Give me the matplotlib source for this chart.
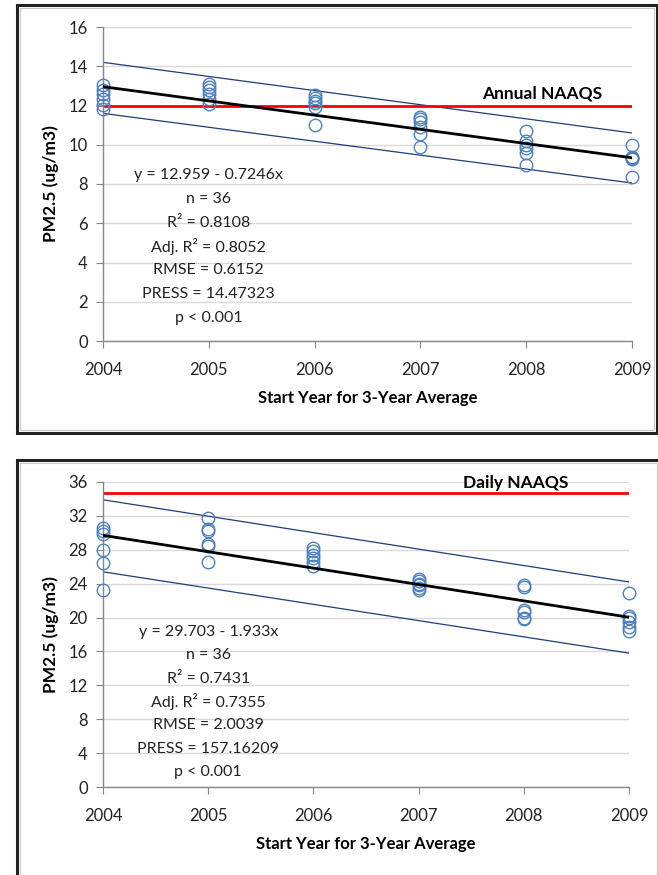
import numpy as np
import matplotlib.pyplot as plt
from matplotlib.patches import Rectangle

plt.rcParams['font.family'] = ['Lato', 'DejaVu Sans']

years = [2004, 2005, 2006, 2007, 2008, 2009]

# annual PM2.5, six sites per start year
annual = [
    [13.05, 12.8, 12.6, 12.35, 12.05, 11.8],
    [13.1, 12.95, 12.8, 12.6, 12.35, 12.1],
    [12.55, 12.4, 12.25, 12.15, 11.9, 11.0],
    [11.4, 11.3, 11.15, 10.9, 10.55, 9.9],
    [10.7, 10.2, 10.0, 9.85, 9.6, 8.95],
    [10.0, 9.4, 9.35, 9.3, 9.25, 8.35],
]
# daily PM2.5
daily = [
    [30.6, 30.2, 29.9, 28.0, 26.4, 23.2],
    [31.8, 30.4, 30.2, 28.7, 28.5, 26.6],
    [28.2, 27.8, 27.4, 27.0, 26.5, 26.1],
    [24.5, 24.3, 24.0, 23.8, 23.5, 23.2],
    [23.9, 23.6, 20.9, 20.6, 20.0, 19.8],
    [22.9, 20.2, 19.9, 19.5, 18.9, 18.4],
]

fit_annual = (12.959, -0.7246)
fit_daily = (29.703, -1.933)
band_years = [2004, 2009]
band_annual_hi = [14.2, 10.6]
band_annual_lo = [11.6, 8.05]
band_daily_hi = [33.9, 24.2]
band_daily_lo = [25.4, 15.8]
naaqs_annual = 12
naaqs_daily = 34.7

stats_annual = ["y = 12.959 - 0.7246x", "n = 36", "R² = 0.8108", "Adj. R² = 0.8052",
                "RMSE = 0.6152", "PRESS = 14.47323", "p < 0.001"]
stats_daily = ["y = 29.703 - 1.933x", "n = 36", "R² = 0.7431", "Adj. R² = 0.7355",
               "RMSE = 2.0039", "PRESS = 157.16209", "p < 0.001"]

W, H = 658, 875
fig = plt.figure(figsize=(W / 100, H / 100), dpi=100)

# panel frames
for (x0, y0, x1, y1) in [(17, 5, 657, 433), (17, 460, 660, 890)]:
    fig.patches.append(Rectangle((x0 / W, 1 - y1 / H), (x1 - x0) / W, (y1 - y0) / H,
                                 transform=fig.transFigure, fill=False,
                                 edgecolor='#222222', linewidth=2.2))
    fig.patches.append(Rectangle(((x0 + 3) / W, 1 - (y1 - 3) / H), (x1 - x0 - 6) / W, (y1 - y0 - 6) / H,
                                 transform=fig.transFigure, fill=False,
                                 edgecolor='#c8c8c8', linewidth=0.8))


def panel(rect, vals, fit, hi, lo, naaqs, ymax, ystep, label, label_xy, stats, stats_y, step):
    ax = fig.add_axes(rect)
    x = np.array(years)
    for yr, v in zip(years, vals):
        ax.plot([yr] * len(v), v, 'o', mfc='none', mec='#4f81bd', mew=1.0, ms=9,
                clip_on=False, zorder=3)
    ax.plot(band_years, hi, color='#1f3d7a', lw=0.9, zorder=2)
    ax.plot(band_years, lo, color='#1f3d7a', lw=0.9, zorder=2)
    ax.plot(x, fit[0] + fit[1] * (x - 2004), color='black', lw=2.0, zorder=4)
    ax.axhline(naaqs, color='#ff0000', lw=2.0, zorder=2)
    ax.text(label_xy[0], label_xy[1], label, ha='center', va='bottom',
            fontsize=12.5, fontweight='bold')
    # stats block, one line at a time so the spacing stays even
    for i, line in enumerate(stats):
        ax.annotate(line, (2005, stats_y), xytext=(0, -i * step), textcoords='offset points',
                    ha='center', va='center', fontsize=11.5, color='#222222')
    ax.set_xlim(2004, 2009)
    ax.set_ylim(0, ymax)
    ax.set_xticks(years)
    ax.set_yticks(np.arange(0, ymax + 1, ystep))
    ax.grid(axis='y', color='#d9d9d9', lw=1.0)
    ax.set_axisbelow(True)
    for s in ['top', 'right']:
        ax.spines[s].set_visible(False)
    for s in ['left', 'bottom']:
        ax.spines[s].set_color('#868686')
        ax.spines[s].set_linewidth(1.0)
    ax.tick_params(colors='#868686', labelcolor='#222222', labelsize=12, length=5)
    ax.tick_params(axis='x', pad=10)
    ax.tick_params(axis='y', pad=6)
    ax.set_xlabel('Start Year for 3-Year Average', fontsize=12, fontweight='bold',
                  labelpad=9)
    ax.set_ylabel('PM2.5 (ug/m3)', fontsize=12.5, fontweight='bold', labelpad=7)
    return ax


panel([103 / W, 1 - 341 / H, 529 / W, 314 / H], annual, fit_annual,
      band_annual_hi, band_annual_lo, naaqs_annual, 16, 2, 'Annual NAAQS',
      (2008.15, 12.2), stats_annual, 8.45, 17.1)
panel([103 / W, 1 - 787 / H, 526 / W, 305 / H], daily, fit_daily,
      band_daily_hi, band_daily_lo, naaqs_daily, 36, 4, 'Daily NAAQS',
      (2007.92, 34.9), stats_daily, 18.3, 16.8)

fig.savefig('out.png', dpi=100)
